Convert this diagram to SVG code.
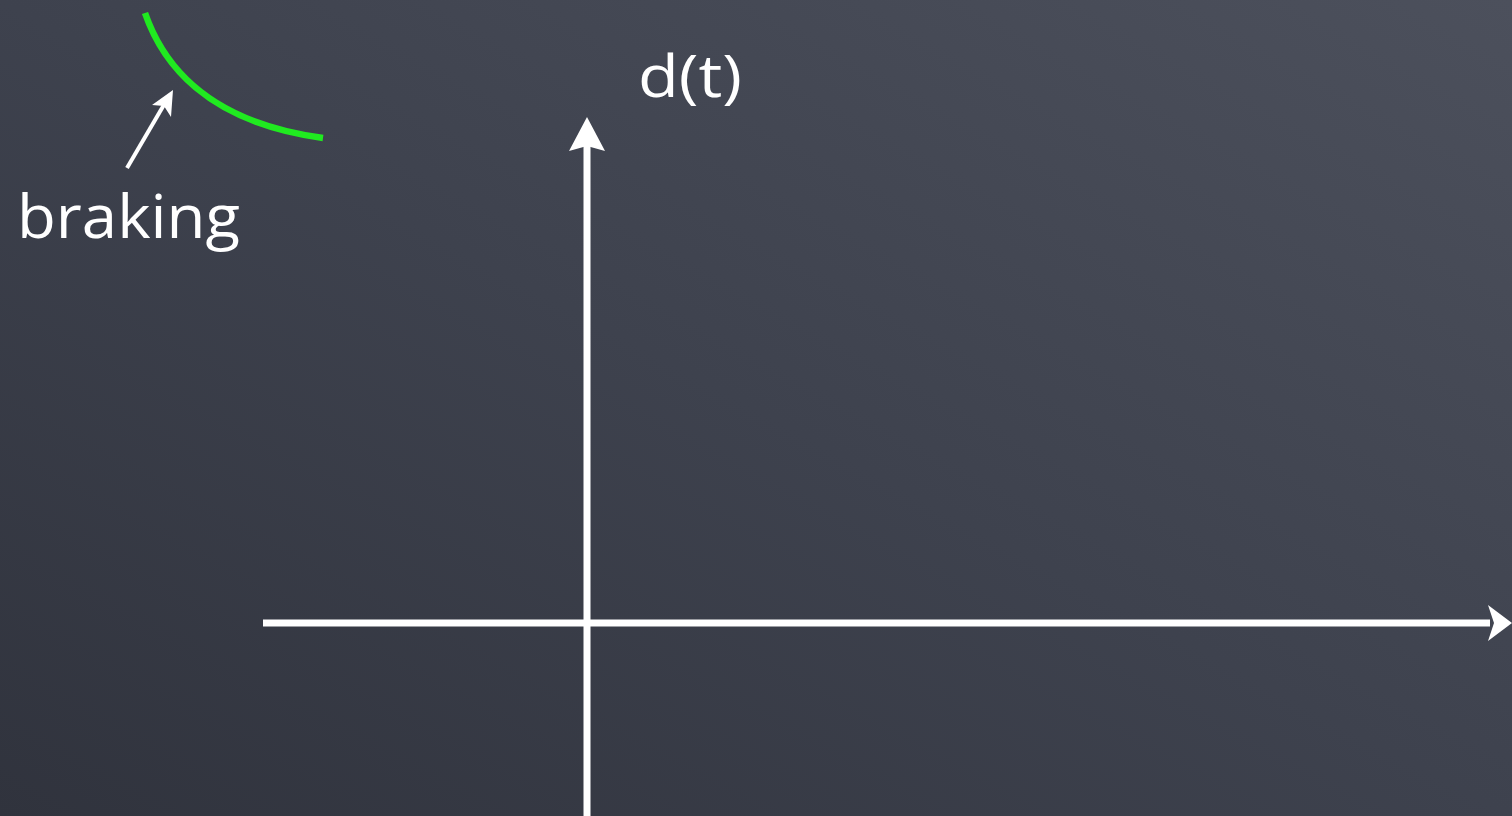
<svg xmlns="http://www.w3.org/2000/svg" width="1512" height="816" viewBox="0 0 1512 816">
<defs>
<linearGradient id="bg" x1="0" y1="1" x2="1" y2="0">
<stop offset="0" stop-color="#30333d"/>
<stop offset="0.5" stop-color="#3e424e"/>
<stop offset="1" stop-color="#4c505c"/>
</linearGradient>
<style>
.txt{font-family:"Open Sans","DejaVu Sans",sans-serif;fill:#ffffff}
.axis{stroke:#ffffff;stroke-width:7;fill:none}
.head{fill:#ffffff}
</style>
</defs>
<rect width="1512" height="816" fill="url(#bg)"/>
<g id="connectors">
<g id="y-axis">
<line class="axis" x1="587" y1="816" x2="587" y2="145"/>
<polygon class="head" points="587,117 605,151 587,146 569,151"/>
</g>
<g id="x-axis">
<line class="axis" x1="263" y1="623" x2="1490" y2="623"/>
<polygon class="head" points="1512,623 1488,605 1494,623 1488,641"/>
</g>
<g id="braking-arrow">
<line stroke="#ffffff" stroke-width="4" x1="127" y1="168" x2="165" y2="103"/>
<polygon class="head" points="173,90 171,117 164,106 152,105"/>
</g>
</g>
<g id="braking-curve">
<path d="M145,13 C162,62 205,122 323,138" stroke="#20ea20" stroke-width="6.5" fill="none"/>
</g>
<g id="label-braking">
<text class="txt" x="17" y="238" font-size="60" textLength="223" lengthAdjust="spacingAndGlyphs">braking</text>
</g>
<g id="label-dt">
<text class="txt" x="638" y="97" font-size="58" textLength="104" lengthAdjust="spacingAndGlyphs">d(t)</text>
</g>
</svg>
